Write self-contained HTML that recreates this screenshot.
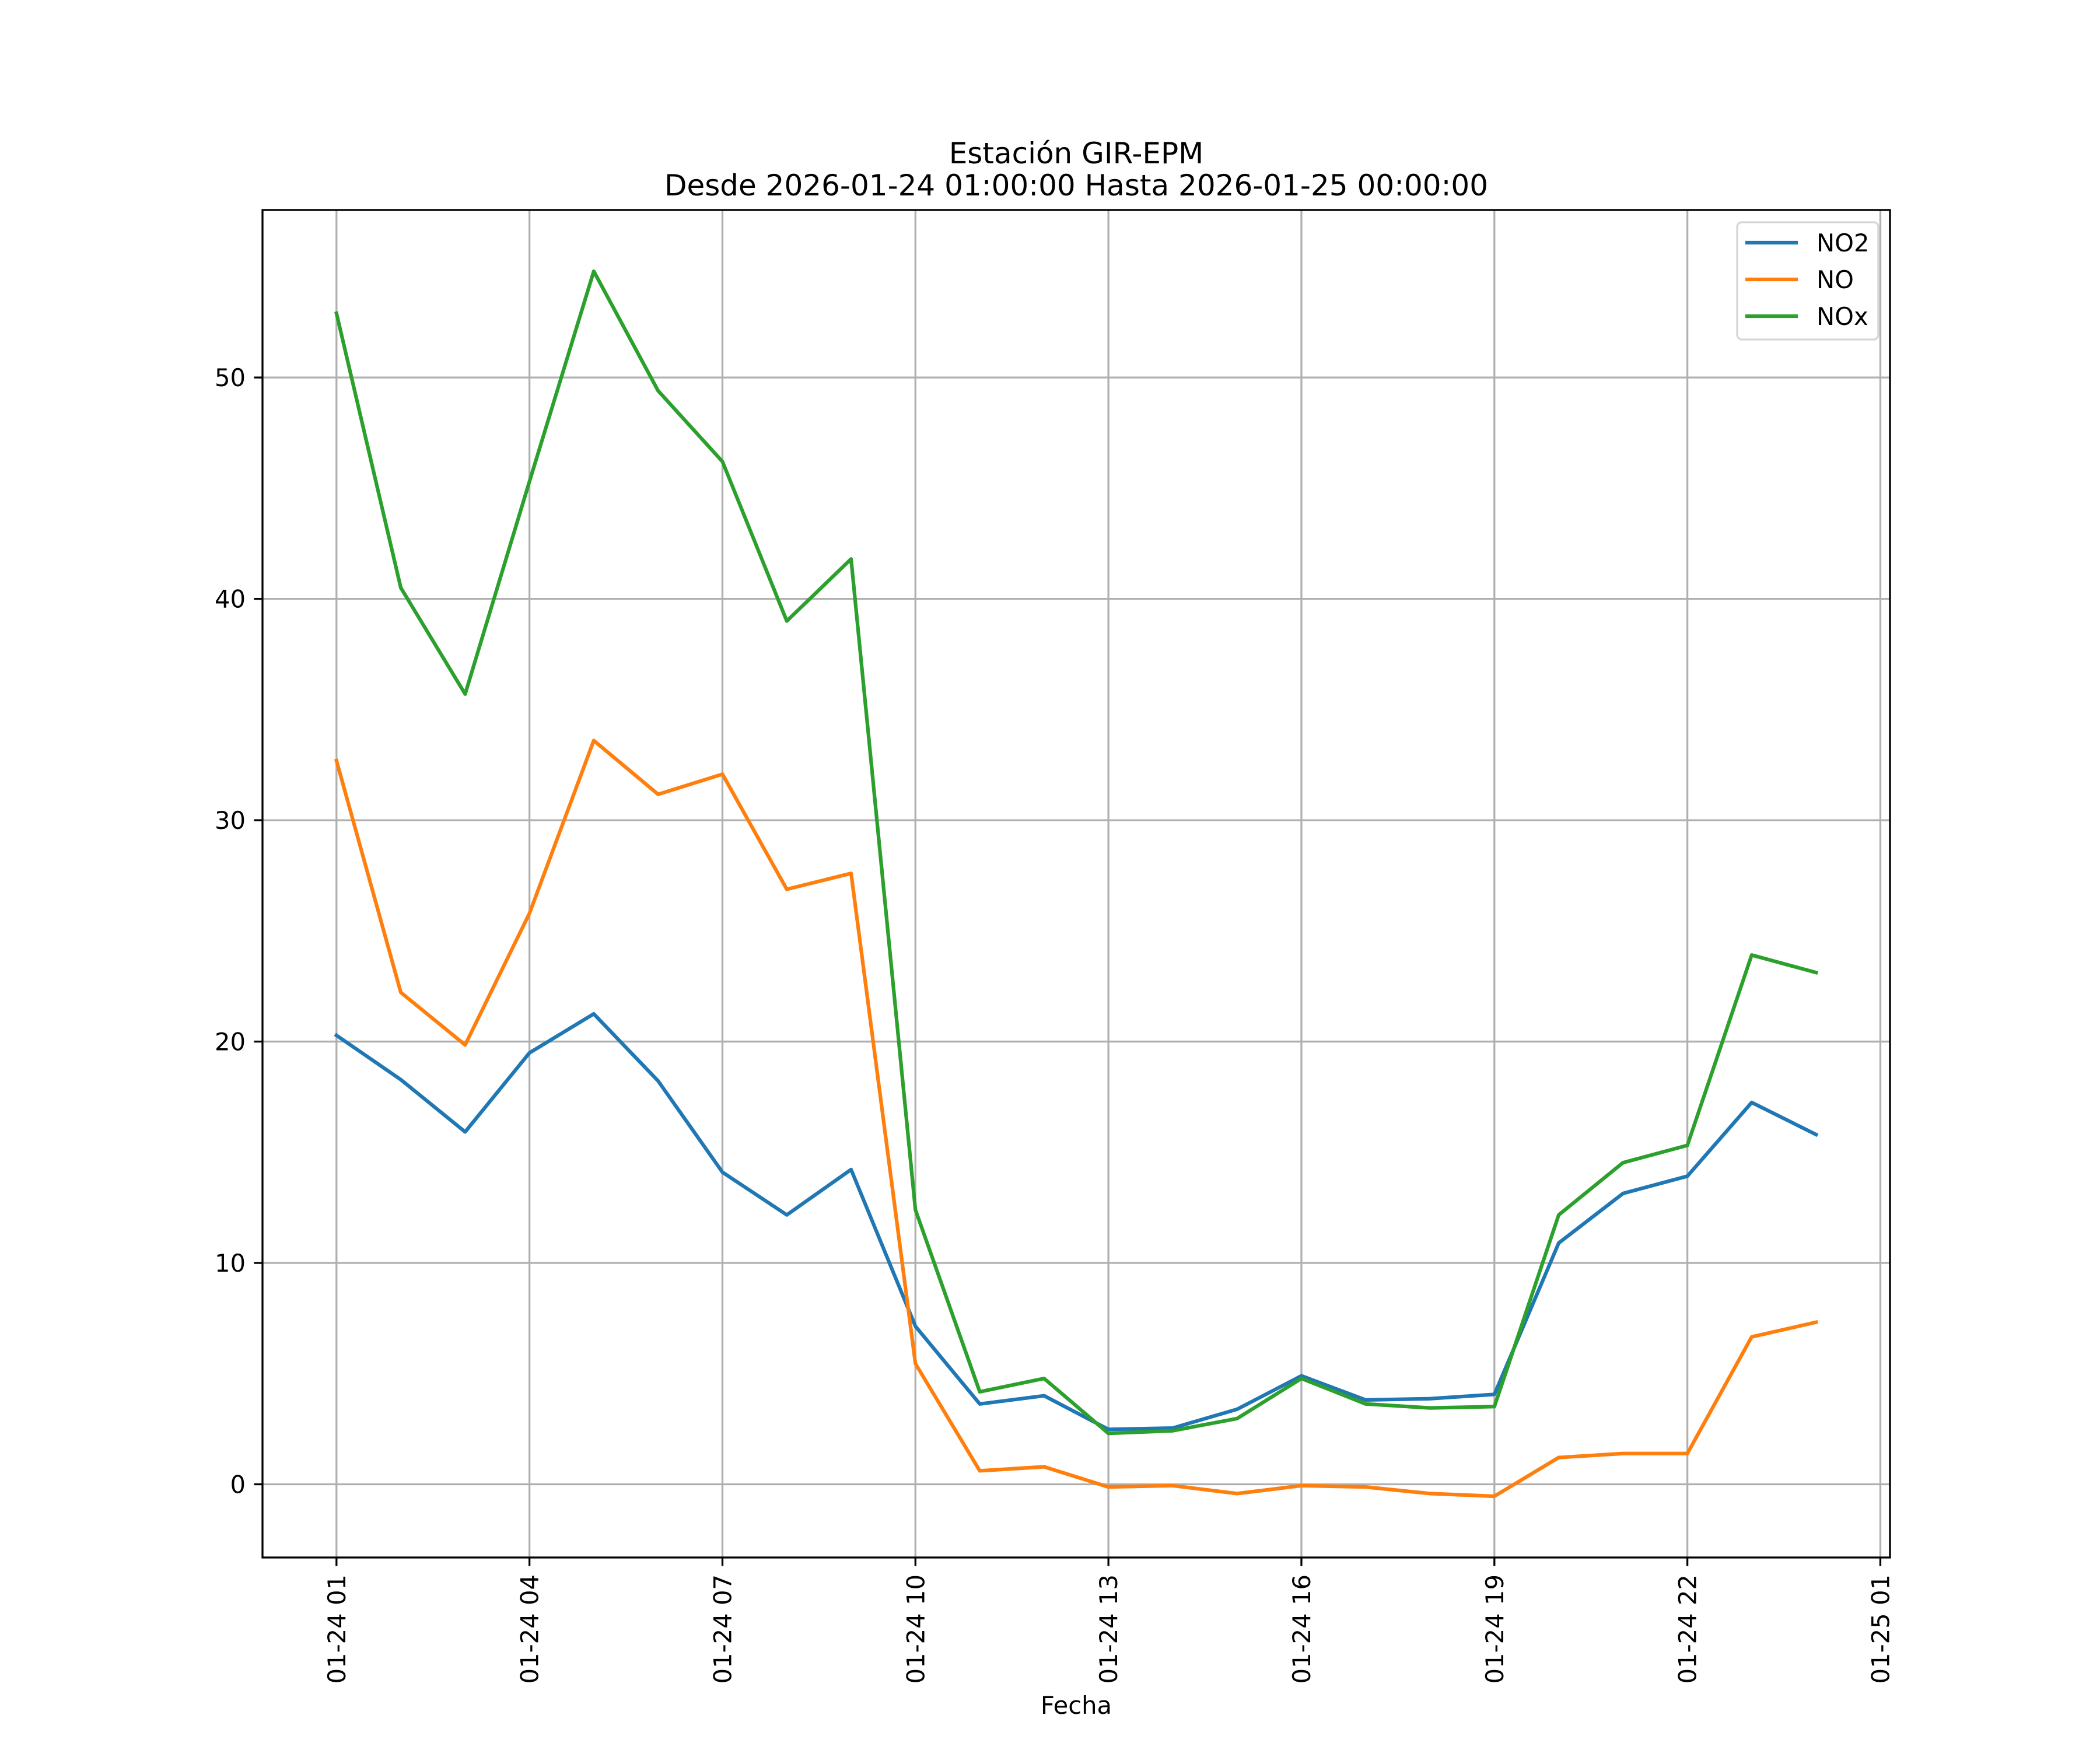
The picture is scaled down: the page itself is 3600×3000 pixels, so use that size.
<!DOCTYPE html>
<html><head><meta charset="utf-8"><style>html,body{margin:0;padding:0;background:#fff}svg{display:block}text{font-family:"DejaVu Sans","Liberation Sans",sans-serif}</style></head>
<body>
<svg id="chart" xmlns="http://www.w3.org/2000/svg" width="3600" height="3000" viewBox="0 0 3600 3000">
<rect width="3600" height="3000" fill="#fff"/>
<text x="1845" y="280" font-size="50" text-anchor="middle">Estación GIR-EPM</text>
<text x="1845" y="335" font-size="50" text-anchor="middle">Desde 2026-01-24 01:00:00 Hasta 2026-01-25 00:00:00</text>
<g id="grid"></g>
<g id="series"></g>
<rect x="450" y="360" width="2790" height="2310" fill="none" stroke="#000" stroke-width="3.3"/>
<g id="ticks"></g>
<text x="1845" y="2938" font-size="41.7" text-anchor="middle">Fecha</text>
<g>
<rect x="2978" y="381" width="242" height="201" rx="8" fill="#fff" fill-opacity="0.8" stroke="#d6d6d6" stroke-width="3.3"/>
<line x1="2992" y1="416" x2="3082" y2="416" stroke="#1f77b4" stroke-width="6.25"/>
<text x="3114" y="431" font-size="41.7">NO2</text>
<line x1="2992" y1="479" x2="3082" y2="479" stroke="#ff7f0e" stroke-width="6.25"/>
<text x="3114" y="494" font-size="41.7">NO</text>
<line x1="2992" y1="542" x2="3082" y2="542" stroke="#2ca02c" stroke-width="6.25"/>
<text x="3114" y="557" font-size="41.7">NOx</text>
</g>
</svg>
<script>
const hours = [1,2,3,4,5,6,7,8,9,10,11,12,13,14,15,16,17,18,19,20,21,22,23,24];
const no2 = [20.28,18.28,15.92,19.49,21.25,18.22,14.10,12.17,14.22,7.14,3.63,4.0,2.48,2.54,3.39,4.9,3.81,3.87,4.06,10.9,13.14,13.92,17.25,15.8];
const no = [32.69,22.22,19.85,25.79,33.6,31.17,32.08,26.88,27.6,5.45,0.61,0.79,-0.12,-0.06,-0.42,-0.06,-0.12,-0.42,-0.54,1.21,1.39,1.39,6.66,7.32];
const nox = [52.9,40.5,35.7,45.3,54.8,49.4,46.2,39.0,41.8,12.4,4.18,4.78,2.3,2.42,2.97,4.78,3.63,3.45,3.51,12.17,14.53,15.31,23.91,23.12];
const yTicks = [0,10,20,30,40,50];
const xTickHours = [1,4,7,10,13,16,19,22,25];
const xTickLabels = ["01-24 01","01-24 04","01-24 07","01-24 10","01-24 13","01-24 16","01-24 19","01-24 22","01-25 01"];

const NS="http://www.w3.org/2000/svg";
const L=450,R=3240,T=360,B=2670;
const allV=no2.concat(no,nox);
const vmin=Math.min(...allV),vmax=Math.max(...allV),vr=vmax-vmin;
const y0=vmin-0.05*vr,y1=vmax+0.05*vr;
const hmin=hours[0],hmax=hours[hours.length-1],hr=hmax-hmin;
const x0=hmin-0.05*hr,x1=hmax+0.05*hr;
function sx(h){return L+(h-x0)/(x1-x0)*(R-L);}
function sy(v){return B-(v-y0)/(y1-y0)*(B-T);}
function mk(tag,attrs,parent){const e=document.createElementNS(NS,tag);for(const k in attrs)e.setAttribute(k,attrs[k]);parent.appendChild(e);return e;}
const grid=document.getElementById('grid'),ticks=document.getElementById('ticks'),ser=document.getElementById('series');
yTicks.forEach(v=>{
  const y=sy(v);
  const g=mk('line',{x1:L,x2:R,y1:y,y2:y,stroke:'#b0b0b0','stroke-width':3.3},grid);
  
  
  const t=mk('line',{x1:L-14.6,x2:L,y1:y,y2:y,stroke:'#000','stroke-width':3.3},ticks);
  
  
  const tx=mk('text',{x:L-29,y:y+15,'font-size':41.7,'text-anchor':'end'},ticks);
  tx.textContent=String(v);
  
  
});
xTickHours.forEach((h,i)=>{
  const x=sx(h);
  const g=mk('line',{x1:x,x2:x,y1:T,y2:B,stroke:'#b0b0b0','stroke-width':3.3},grid);
  
  
  const t=mk('line',{x1:x,x2:x,y1:B,y2:B+14.6,stroke:'#000','stroke-width':3.3},ticks);
  
  
  const tx=mk('text',{x:0,y:0,'font-size':41.7,'text-anchor':'end',transform:`translate(${x+15},${B+29}) rotate(-90)`},ticks);
  tx.textContent=xTickLabels[i];
  
  
});
[[no2,'#1f77b4','line-no2'],[no,'#ff7f0e','line-no'],[nox,'#2ca02c','line-nox']].forEach(([d,c,n])=>{
  const pts=d.map((v,i)=>sx(hours[i]).toFixed(1)+','+sy(v).toFixed(1)).join(' ');
  const p=mk('polyline',{points:pts,fill:'none',stroke:c,'stroke-width':6.25,'stroke-linejoin':'round','stroke-linecap':'square'},ser);
  
  
});
</script>
</body></html>
